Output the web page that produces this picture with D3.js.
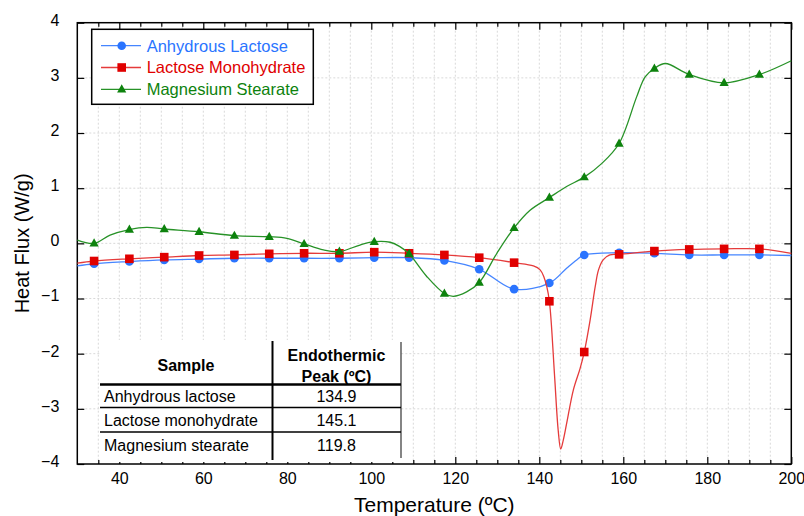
<!DOCTYPE html>
<html>
<head>
<meta charset="utf-8">
<script src="https://cdn.jsdelivr.net/npm/d3@7"></script>
<style>
    body { margin: 0; background: #fff; }
    svg { display: block; font-family: "Liberation Sans", Arial, sans-serif; }
</style>
</head>
<body>
<div class="svg-container"></div>
<script>
// Temperatures (ºC) where the markers sit, shared by all three series.
const markerTemps = [34.0, 42.4, 50.7, 59.0, 67.4, 75.7, 84.0, 92.4, 100.7, 109.0,
    117.4, 125.7, 134.0, 142.4, 150.7, 159.0, 167.4, 175.7, 184.0, 192.4];

// Heat flux (W/g) at the marker temperatures.
const anhydrousLactose = [-0.37, -0.33, -0.30, -0.285, -0.27, -0.27, -0.27, -0.27, -0.26, -0.26,
    -0.31, -0.47, -0.83, -0.72, -0.21, -0.17, -0.18, -0.21, -0.21, -0.21];
const lactoseMonohydrate = [-0.32, -0.28, -0.25, -0.22, -0.21, -0.19, -0.18, -0.18, -0.16, -0.18,
    -0.21, -0.26, -0.35, -1.05, -1.97, -0.20, -0.14, -0.11, -0.10, -0.10];
const magnesiumStearate = [0.0, 0.25, 0.26, 0.21, 0.14, 0.12, -0.01, -0.15, 0.03, -0.19,
    -0.91, -0.71, 0.28, 0.83, 1.20, 1.81, 3.17, 3.06, 2.91, 3.06];

// Extra readings of the traces between markers [temp, flux].
const anhydrousExtra = [[30, -0.41], [146.5, -0.45], [148.9, -0.30], [200, -0.22]];
const monohydrateExtra = [[30, -0.36], [138.6, -0.41], [140.2, -0.48], [141.1, -0.61],
    [141.8, -0.79], [142.8, -1.39], [143.7, -2.48], [144.5, -3.39], [145.1, -3.73],
    [145.7, -3.57], [146.5, -3.27], [148.1, -2.66], [149.7, -2.27], [152.1, -1.39],
    [153.3, -0.79], [154.1, -0.48], [155.2, -0.30], [156.8, -0.21], [200, -0.18]];
const stearateExtra = [[30, 0.06], [37.8, 0.15], [46.5, 0.29], [79.9, 0.09], [88.6, -0.12],
    [97.3, -0.03], [104.5, 0.02], [106.8, -0.06], [113.2, -0.60], [119.5, -0.96],
    [122.7, -0.88], [129.9, -0.18], [137.8, 0.60], [146.5, 1.03], [154.9, 1.45],
    [163.2, 2.66], [165.2, 3.02], [170.0, 3.26], [200, 3.31]];

const seriesNames = ["Anhydrous Lactose", "Lactose Monohydrate", "Magnesium Stearate"];

// Inset table.
const tableSamples = ["Anhydrous lactose", "Lactose monohydrate", "Magnesium stearate"];
const tablePeaks = ["134.9", "145.1", "119.8"];

const xTickValues = [40, 60, 80, 100, 120, 140, 160, 180, 200];
const yTickValues = [-4, -3, -2, -1, 0, 1, 2, 3, 4];

const WIDTH = 804;
const HEIGHT = 516;
const PLOT = { left: 77.3, right: 791.3, top: 22.7, bottom: 464 };

const series = [
    { name: seriesNames[0], values: anhydrousLactose, extra: anhydrousExtra,
      line: "#4585ff", color: "#2a74ff", marker: "circle" },
    { name: seriesNames[1], values: lactoseMonohydrate, extra: monohydrateExtra,
      line: "#e53b3b", color: "#e00000", marker: "square" },
    { name: seriesNames[2], values: magnesiumStearate, extra: stearateExtra,
      line: "#279227", color: "#0d820d", marker: "triangle" },
];

const x = d3.scaleLinear().domain([30, 200]).range([PLOT.left, PLOT.right]);
const y = d3.scaleLinear().domain([-4, 4]).range([PLOT.bottom, PLOT.top]);

const minorX = d3.range(35, 200, 5).filter((t) => t % 20 !== 0);

const svg = d3
    .select(".svg-container")
    .append("svg")
    .attr("width", WIDTH)
    .attr("height", HEIGHT);

// Dotted grid.
const grid = svg.append("g").attr("stroke", "#d9d9d9").attr("stroke-dasharray", "2,2");
grid.selectAll("line.v")
    .data(d3.range(35, 200, 5))
    .enter()
    .append("line")
    .attr("x1", (t) => x(t))
    .attr("x2", (t) => x(t))
    .attr("y1", PLOT.top)
    .attr("y2", PLOT.bottom);
grid.selectAll("line.h")
    .data(yTickValues.slice(1, -1))
    .enter()
    .append("line")
    .attr("x1", PLOT.left)
    .attr("x2", PLOT.right)
    .attr("y1", (v) => y(v))
    .attr("y2", (v) => y(v));

// Axes with inward ticks on all four sides.
function styleAxis(g) {
    g.select(".domain").remove();
    g.selectAll(".tick line").attr("stroke", "#000").attr("stroke-width", 1.2);
    g.selectAll(".tick text").attr("fill", "#000").attr("font-size", 16);
}

svg.append("g")
    .attr("transform", "translate(0," + PLOT.bottom + ")")
    .call(d3.axisBottom(x).tickValues(xTickValues).tickSize(-7).tickPadding(9))
    .call(styleAxis);
svg.append("g")
    .attr("transform", "translate(0," + PLOT.bottom + ")")
    .call(d3.axisBottom(x).tickValues(minorX).tickSize(-4).tickFormat(""))
    .call(styleAxis);
svg.append("g")
    .attr("transform", "translate(0," + PLOT.top + ")")
    .call(d3.axisTop(x).tickValues(xTickValues).tickSize(-7).tickFormat(""))
    .call(styleAxis);
svg.append("g")
    .attr("transform", "translate(0," + PLOT.top + ")")
    .call(d3.axisTop(x).tickValues(minorX).tickSize(-4).tickFormat(""))
    .call(styleAxis);
svg.append("g")
    .attr("transform", "translate(" + PLOT.left + ",0)")
    .call(d3.axisLeft(y).tickValues(yTickValues).tickSize(-7).tickPadding(18))
    .call(styleAxis)
    .call((g) => g.selectAll(".tick text").attr("dy", "0.15em"));
svg.append("g")
    .attr("transform", "translate(" + PLOT.right + ",0)")
    .call(d3.axisRight(y).tickValues(yTickValues).tickSize(-7).tickFormat(""))
    .call(styleAxis);

svg.append("rect")
    .attr("x", PLOT.left)
    .attr("y", PLOT.top)
    .attr("width", PLOT.right - PLOT.left)
    .attr("height", PLOT.bottom - PLOT.top)
    .attr("fill", "none")
    .attr("stroke", "#000")
    .attr("stroke-width", 1.5);

// Axis titles.
svg.append("text")
    .attr("x", (PLOT.left + PLOT.right) / 2)
    .attr("y", 512)
    .attr("text-anchor", "middle")
    .attr("font-size", 21)
    .text("Temperature (ºC)");
svg.append("text")
    .attr("transform", "translate(29," + (PLOT.top + PLOT.bottom) / 2 + ") rotate(-90)")
    .attr("text-anchor", "middle")
    .attr("font-size", 20)
    .text("Heat Flux (W/g)");

// Marker shapes.
function drawMarker(sel, type, color) {
    if (type === "circle") {
        sel.append("circle").attr("r", 4.3).attr("fill", color);
    } else if (type === "square") {
        sel.append("rect").attr("x", -4.3).attr("y", -4.3)
            .attr("width", 8.6).attr("height", 8.6).attr("fill", color);
    } else {
        sel.append("path").attr("d", "M0,-5L4.6,3.2L-4.6,3.2Z").attr("fill", color);
    }
}

const line = d3
    .line()
    .x((d) => x(d[0]))
    .y((d) => y(d[1]))
    .curve(d3.curveCatmullRom.alpha(0.5));

const seriesContainer = svg.append("g").classed("series", true);
series.forEach((s) => {
    const markerPoints = markerTemps.map((t, i) => [t, s.values[i]]);
    const linePoints = markerPoints.concat(s.extra).sort((a, b) => a[0] - b[0]);
    const g = seriesContainer.append("g");
    g.append("path")
        .attr("d", line(linePoints))
        .attr("fill", "none")
        .attr("stroke", s.line)
        .attr("stroke-width", 1.3);
    g.selectAll("g.marker")
        .data(markerPoints)
        .enter()
        .append("g")
        .classed("marker", true)
        .attr("transform", (d) => "translate(" + x(d[0]) + "," + y(d[1]) + ")")
        .each(function () { drawMarker(d3.select(this), s.marker, s.color); });
});

// Legend.
const legend = svg.append("g");
legend.append("rect")
    .attr("x", 91.7)
    .attr("y", 29.3)
    .attr("width", 221.6)
    .attr("height", 75)
    .attr("fill", "#fff")
    .attr("stroke", "#000")
    .attr("stroke-width", 1.5);
const legendRowY = d3.scalePoint().domain(seriesNames).range([45.7, 89.3]);
series.forEach((s) => {
    const row = legend.append("g").attr("transform", "translate(0," + legendRowY(s.name) + ")");
    row.append("line")
        .attr("x1", 101).attr("x2", 141)
        .attr("stroke", s.line).attr("stroke-width", 1.3);
    drawMarker(row.append("g").attr("transform", "translate(121.7,0)"), s.marker, s.color);
    row.append("text")
        .attr("x", 146.7)
        .attr("dy", "0.36em")
        .attr("font-size", 16.5)
        .attr("fill", s.color)
        .text(s.name);
});

// Inset table with the endothermic peaks.
const table = svg.append("g");
table.append("rect")
    .attr("x", 100).attr("y", 340)
    .attr("width", 301).attr("height", 122)
    .attr("fill", "#fff");
const rowY = d3.scalePoint().domain(tableSamples).range([396, 445]);
table.append("text")
    .attr("x", 186).attr("y", 365).attr("dy", "0.35em")
    .attr("text-anchor", "middle").attr("font-size", 16).attr("font-weight", "bold")
    .text("Sample");
table.append("text")
    .attr("x", 336.5).attr("y", 355).attr("dy", "0.35em")
    .attr("text-anchor", "middle").attr("font-size", 16).attr("font-weight", "bold")
    .text("Endothermic");
table.append("text")
    .attr("x", 336.5).attr("y", 376).attr("dy", "0.35em")
    .attr("text-anchor", "middle").attr("font-size", 16).attr("font-weight", "bold")
    .text("Peak (ºC)");
tableSamples.forEach((name, i) => {
    table.append("text")
        .attr("x", 104).attr("y", rowY(name)).attr("dy", "0.35em")
        .attr("font-size", 16)
        .text(name);
    table.append("text")
        .attr("x", 336.5).attr("y", rowY(name)).attr("dy", "0.35em")
        .attr("text-anchor", "middle").attr("font-size", 16)
        .text(tablePeaks[i]);
});
table.append("line")
    .attr("x1", 272.5).attr("x2", 272.5).attr("y1", 341).attr("y2", 460)
    .attr("stroke", "#000").attr("stroke-width", 2);
table.append("line")
    .attr("x1", 401).attr("x2", 401).attr("y1", 342).attr("y2", 458)
    .attr("stroke", "#333").attr("stroke-width", 1.2);
table.append("line")
    .attr("x1", 100).attr("x2", 401).attr("y1", 384.5).attr("y2", 384.5)
    .attr("stroke", "#000").attr("stroke-width", 2.5);
[407.5, 432].forEach((ly) =>
    table.append("line")
        .attr("x1", 100).attr("x2", 401).attr("y1", ly).attr("y2", ly)
        .attr("stroke", "#000").attr("stroke-width", 1.5)
);
</script>
</body>
</html>
